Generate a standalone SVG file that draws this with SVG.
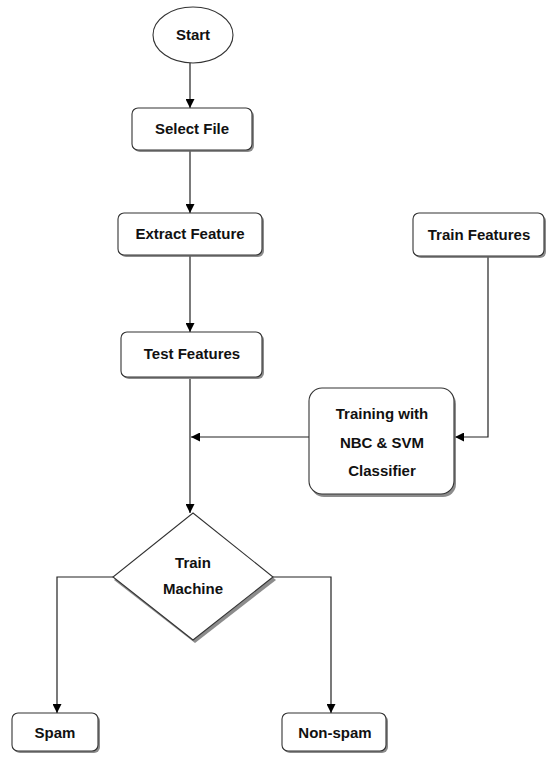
<svg xmlns="http://www.w3.org/2000/svg" width="547" height="757" viewBox="0 0 547 757">
<defs>
<marker id="ah" viewBox="0 0 10 10" refX="10" refY="5" markerWidth="9" markerHeight="9" markerUnits="userSpaceOnUse" orient="auto">
<path d="M0,0 L10,5 L0,10 z" fill="#000"/>
</marker>
</defs>
<style>
.box{fill:#fff;stroke:#333;stroke-width:1.1}
.sh{fill:#666;stroke:none;opacity:0.75}
.t{font-family:"Liberation Sans",Arial,sans-serif;font-weight:bold;font-size:15px;fill:#111;text-anchor:middle;dominant-baseline:central}
.c{fill:none;stroke:#222;stroke-width:1.2}
</style>
<rect width="547" height="757" fill="#fff"/>
<g id="connectors">
<path class="c" d="M190,63 V108" marker-end="url(#ah)"/>
<path class="c" d="M190,151 V213" marker-end="url(#ah)"/>
<path class="c" d="M190,256 V332" marker-end="url(#ah)"/>
<path class="c" d="M190,379 V513" marker-end="url(#ah)"/>
<path class="c" d="M488,257 V437 H455" marker-end="url(#ah)"/>
<path class="c" d="M309,437 H191" marker-end="url(#ah)"/>
<path class="c" d="M114,577 H57 V713" marker-end="url(#ah)"/>
<path class="c" d="M273,577 H331 V713" marker-end="url(#ah)"/>
</g>
<g id="start">
<ellipse cx="193" cy="35" rx="40" ry="28" class="box"/>
<text x="193" y="34" class="t">Start</text>
</g>
<g id="select-file">
<rect x="134" y="110" width="120" height="42" rx="6" class="sh"/>
<rect x="132" y="108" width="120" height="42" rx="6" class="box"/>
<text x="192" y="128" class="t">Select File</text>
</g>
<g id="extract-feature">
<rect x="120" y="215" width="144" height="42" rx="6" class="sh"/>
<rect x="118" y="213" width="144" height="42" rx="6" class="box"/>
<text x="190" y="233" class="t">Extract Feature</text>
</g>
<g id="test-features">
<rect x="123" y="334" width="141" height="45" rx="6" class="sh"/>
<rect x="121" y="332" width="141" height="45" rx="6" class="box"/>
<text x="192" y="353" class="t">Test Features</text>
</g>
<g id="train-features">
<rect x="415" y="215" width="131" height="43" rx="6" class="sh"/>
<rect x="413" y="213" width="131" height="43" rx="6" class="box"/>
<text x="479" y="234" class="t">Train Features</text>
</g>
<g id="training">
<rect x="311" y="391" width="145" height="106" rx="13" class="sh"/>
<rect x="309" y="388" width="145" height="106" rx="13" class="box"/>
<text x="382" y="413" class="t">Training with</text>
<text x="382" y="442" class="t">NBC &amp; SVM</text>
<text x="382" y="470" class="t">Classifier</text>
</g>
<g id="train-machine">
<polygon points="195,516 276,580 195,643 114,580" class="sh"/>
<polygon points="193,513 273,577 193,640 113,577" class="box"/>
<text x="193" y="562" class="t">Train</text>
<text x="193" y="588" class="t">Machine</text>
</g>
<g id="spam">
<rect x="14" y="715" width="86" height="38" rx="6" class="sh"/>
<rect x="12" y="713" width="86" height="38" rx="6" class="box"/>
<text x="55" y="732" class="t">Spam</text>
</g>
<g id="non-spam">
<rect x="284" y="715" width="104" height="38" rx="6" class="sh"/>
<rect x="282" y="713" width="104" height="38" rx="6" class="box"/>
<text x="335" y="732" class="t">Non-spam</text>
</g>
</svg>
